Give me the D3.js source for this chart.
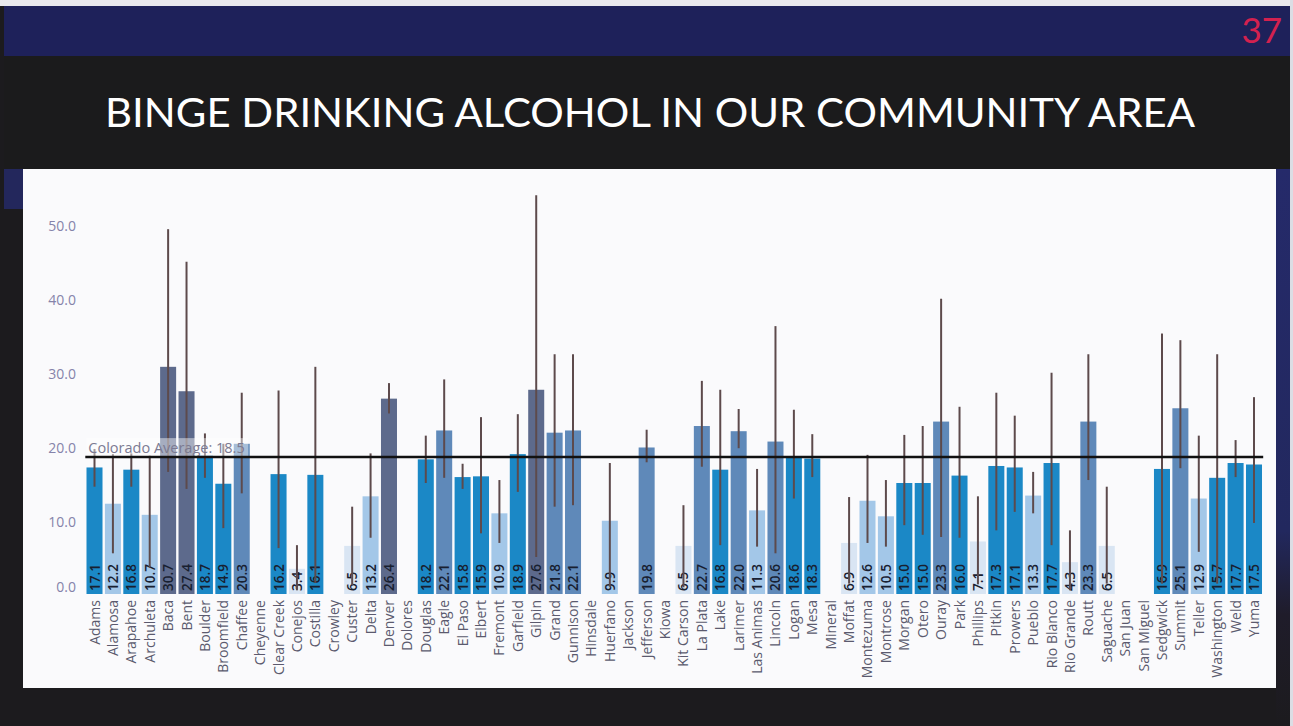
<!DOCTYPE html>
<html>
<head>
<meta charset="utf-8">
<script src="https://cdn.jsdelivr.net/npm/d3@7"></script>
<style>
  html, body { margin: 0; padding: 0; background: #1b1a1d; }
  svg { display: block; }
</style>
</head>
<body>
<svg id="slide" width="1293" height="726"></svg>
<script>
// Colorado counties, adult binge drinking prevalence (%) with 95% confidence bounds
const counties = ["Adams","Alamosa","Arapahoe","Archuleta","Baca","Bent","Boulder","Broomfield","Chaffee","Cheyenne",
  "Clear Creek","Conejos","Costilla","Crowley","Custer","Delta","Denver","Dolores","Douglas","Eagle",
  "El Paso","Elbert","Fremont","Garfield","Gilpin","Grand","Gunnison","Hinsdale","Huerfano","Jackson",
  "Jefferson","Kiowa","Kit Carson","La Plata","Lake","Larimer","Las Animas","Lincoln","Logan","Mesa",
  "Mineral","Moffat","Montezuma","Montrose","Morgan","Otero","Ouray","Park","Phillips","Pitkin",
  "Prowers","Pueblo","Rio Blanco","Rio Grande","Routt","Saguache","San Juan","San Miguel","Sedgwick","Summit",
  "Teller","Washington","Weld","Yuma"];

const rates = [17.1,12.2,16.8,10.7,30.7,27.4,18.7,14.9,20.3,null,
  16.2,3.4,16.1,null,6.5,13.2,26.4,null,18.2,22.1,
  15.8,15.9,10.9,18.9,27.6,21.8,22.1,null,9.9,null,
  19.8,null,6.5,22.7,16.8,22.0,11.3,20.6,18.6,18.3,
  null,6.9,12.6,10.5,15.0,15.0,23.3,16.0,7.1,17.3,
  17.1,13.3,17.7,4.3,23.3,6.5,null,null,16.9,25.1,
  12.9,15.7,17.7,17.5];

const ciLow = [14.5,5.5,14.5,3.6,16.5,14.2,15.7,8.9,13.6,null,
  6.2,0.5,1.5,null,1.2,7.6,24.4,null,15.0,15.7,
  14.2,8.2,6.9,13.8,5.0,11.8,12.0,null,1.0,null,
  17.8,null,0.9,17.2,6.6,19.7,6.4,5.5,12.9,15.8,
  null,1.4,6.9,6.4,9.3,8.0,7.7,7.6,1.3,8.6,
  11.1,10.9,6.6,0.5,15.4,1.4,null,null,1.4,17.0,
  5.7,1.4,15.8,9.6];

const ciHigh = [19.6,18.9,19.0,18.7,49.3,44.9,21.7,20.3,27.2,null,
  27.5,6.6,30.7,null,11.8,19.0,28.5,null,21.4,29.0,
  17.6,23.9,15.4,24.3,53.9,32.4,32.4,null,17.7,null,
  22.2,null,12.0,28.8,27.6,25.0,16.9,36.2,24.9,21.6,
  null,13.1,18.8,15.4,21.5,22.7,39.9,25.3,13.2,27.2,
  24.1,16.5,29.9,8.6,32.4,14.5,null,null,35.2,34.3,
  21.4,32.4,20.8,26.6];

const stateAverage = 18.5;
const yTicks = [0, 10, 20, 30, 40, 50];

// colour classes for the bars
const classBreaks = [8, 14, 19.5, 26];
const classColors = ["#d9e5f3", "#a3c7e8", "#1b88c6", "#5f89b9", "#5d6a8c"];

const title = "BINGE DRINKING ALCOHOL IN OUR COMMUNITY AREA";
const slideNumber = "37";

const svg = d3.select("#slide");

// ---- slide frame ----
svg.append("rect").attr("x", 0).attr("y", 0).attr("width", 1293).attr("height", 726).attr("fill", "#1c1b1e");
svg.append("rect").attr("x", 0).attr("y", 0).attr("width", 1293).attr("height", 6).attr("fill", "#e9e9ee");
svg.append("rect").attr("x", 4).attr("y", 6).attr("width", 1286).attr("height", 50).attr("fill", "#1e215a");
svg.append("rect").attr("x", 4).attr("y", 56).attr("width", 1286).attr("height", 113).attr("fill", "#1b1b1c");

const sideGrad = svg.append("defs").append("linearGradient")
  .attr("id", "sideStrip").attr("x1", 0).attr("y1", 0).attr("x2", 0).attr("y2", 1);
sideGrad.append("stop").attr("offset", "0%").attr("stop-color", "#252a6a");
sideGrad.append("stop").attr("offset", "65%").attr("stop-color", "#22285e");
sideGrad.append("stop").attr("offset", "80%").attr("stop-color", "#1f1c2a");
sideGrad.append("stop").attr("offset", "100%").attr("stop-color", "#1c1b1e");
svg.append("rect").attr("x", 1276).attr("y", 169).attr("width", 14).attr("height", 557).attr("fill", "url(#sideStrip)");
svg.append("rect").attr("x", 1290).attr("y", 0).attr("width", 3).attr("height", 726).attr("fill", "#dcdde4");
svg.append("rect").attr("x", 4).attr("y", 169).attr("width", 19).attr("height", 40).attr("fill", "#23275c");

svg.append("text")
  .attr("x", 650).attr("y", 127)
  .attr("text-anchor", "middle")
  .attr("font-family", "Lato, 'Open Sans', sans-serif")
  .attr("font-size", 40)
  .attr("fill", "#ffffff")
  .attr("textLength", 1090)
  .attr("lengthAdjust", "spacingAndGlyphs")
  .text(title);

svg.append("text")
  .attr("x", 1282).attr("y", 43)
  .attr("text-anchor", "end")
  .attr("font-family", "Lato, sans-serif")
  .attr("font-size", 35)
  .attr("fill", "#d3214f")
  .text(slideNumber);

// ---- chart panel ----
svg.append("rect").attr("x", 23).attr("y", 169).attr("width", 1253).attr("height", 519).attr("fill", "#fafafc");

const plot = { left: 85.3, right: 1263.2, top: 224, bottom: 594 };

const x = d3.scaleBand()
  .domain(counties)
  .range([plot.left, plot.right])
  .paddingInner(0.13)
  .paddingOuter(0.065);

const y = d3.scaleLinear()
  .domain([0, 50])
  .range([plot.bottom, plot.top]);

const colorOf = d3.scaleThreshold().domain(classBreaks).range(classColors);

const rows = counties.map((c, i) => ({ county: c, rate: rates[i], lo: ciLow[i], hi: ciHigh[i] }));
const present = rows.filter(d => d.rate !== null);

// y axis labels
const yAxis = d3.axisLeft(y).tickValues(yTicks).tickFormat(d3.format(".1f")).tickSize(0).tickPadding(0);
const yg = svg.append("g").attr("transform", "translate(76,0)").call(yAxis);
yg.select(".domain").remove();
yg.selectAll("text")
  .attr("font-family", "'Open Sans', sans-serif")
  .attr("font-size", 14)
  .attr("fill", "#8583aa")
  .attr("dy", (d) => d === 0 ? "-0.2em" : "0.45em");

// bars
svg.append("g").selectAll("rect")
  .data(present)
  .join("rect")
  .attr("x", d => x(d.county))
  .attr("width", x.bandwidth())
  .attr("y", d => y(d.rate))
  .attr("height", d => y(0) - y(d.rate))
  .attr("fill", d => colorOf(d.rate));

// value labels inside the bars
svg.append("g").selectAll("text")
  .data(present)
  .join("text")
  .attr("transform", d => `translate(${x(d.county) + x.bandwidth() / 2 + 5},${y(0) - 3}) rotate(-90)`)
  .attr("font-family", "'Open Sans', sans-serif")
  .attr("font-size", 13.5)
  .attr("font-weight", 600)
  .attr("fill", "#182030")
  .text(d => d3.format(".1f")(d.rate));

// confidence interval whiskers
svg.append("g").selectAll("line")
  .data(present)
  .join("line")
  .attr("x1", d => x(d.county) + x.bandwidth() / 2)
  .attr("x2", d => x(d.county) + x.bandwidth() / 2)
  .attr("y1", d => y(d.lo))
  .attr("y2", d => y(d.hi))
  .attr("stroke", "#5d4a4c")
  .attr("stroke-width", 2);

// state average reference line
const avgLabel = "Colorado Average: " + d3.format(".1f")(stateAverage);
svg.append("rect")
  .attr("x", plot.left + 1).attr("y", y(stateAverage) - 19)
  .attr("width", 162).attr("height", 18)
  .attr("fill", "#ffffff").attr("fill-opacity", 0.45);
svg.append("text")
  .attr("x", plot.left + 3).attr("y", y(stateAverage) - 4)
  .attr("font-family", "'Open Sans', sans-serif")
  .attr("font-size", 14.5)
  .attr("fill", "#7b7a92")
  .text(avgLabel);
svg.append("line")
  .attr("x1", plot.left).attr("x2", plot.right)
  .attr("y1", y(stateAverage)).attr("y2", y(stateAverage))
  .attr("stroke", "#111111")
  .attr("stroke-width", 2.5);

// county names
svg.append("g").selectAll("text")
  .data(rows)
  .join("text")
  .attr("transform", d => `translate(${x(d.county) + x.bandwidth() / 2 + 5},${y(0) + 6}) rotate(-90)`)
  .attr("text-anchor", "end")
  .attr("font-family", "'Open Sans', sans-serif")
  .attr("font-size", 14)
  .attr("fill", "#5b5a6e")
  .text(d => d.county);
</script>
</body>
</html>
